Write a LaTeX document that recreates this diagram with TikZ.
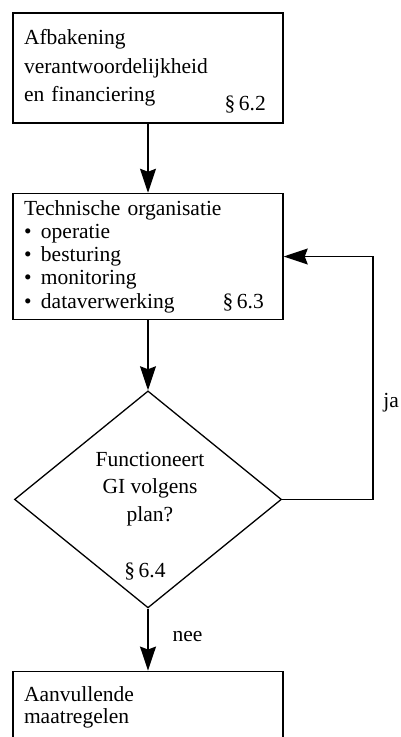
\documentclass[tikz,border=0pt]{standalone}
\usepackage{fontspec}
\setmainfont{Liberation Serif}
\usetikzlibrary{positioning, arrows.meta, shapes.geometric}
\tikzset{
>={Stealth[length=24pt, width=16pt, inset=3pt]}, % big filled arrow heads
every node/.style={font=\fontsize{21.5}{28.5}\selectfont}, % text size of the scan
box/.style={draw, line width=1.5pt, minimum width=270pt, text width=248pt, inner xsep=11pt, align=left}, % rectangular steps
decision/.style={diamond, draw, line width=1.3pt, minimum width=267pt, minimum height=217pt, inner sep=0pt}, % the question
flow/.style={->, line width=1.4pt}, % connectors between the steps
tag/.style={inner sep=0pt}, % paragraph references and answers
}

\begin{document}
\begin{tikzpicture}[x=1pt, y=-1pt]
\clip (0,0) rectangle (401,737);
\node[box, minimum height=110pt] (scope) at (148,68) {Afbakening\\verantwoordelijkheid\\en financiering};
\node[box, minimum height=126pt, below=69pt of scope, font=\fontsize{21.5}{23.3}\selectfont] (tech) {Technische organisatie\\
\makebox[17pt][l]{\textbullet}operatie\\
\makebox[17pt][l]{\textbullet}besturing\\
\makebox[17pt][l]{\textbullet}monitoring\\
\makebox[17pt][l]{\textbullet}dataverwerking};
\node[decision, below=70pt of tech] (check) {};
\node[box, minimum height=73pt, below=62pt of check, font=\fontsize{21.5}{22}\selectfont] (extra) {Aanvullende\\maatregelen};

\node[align=center, font=\fontsize{21.5}{27.5}\selectfont] (question) at (150,489) {Functioneert\\GI volgens\\plan?};
\node[tag, anchor=base east] (par62) at (266,110) {\S\,6.2};
\node[tag, anchor=base east] (par63) at (264,308) {\S\,6.3};
\node[tag, anchor=base] (par64) at (145,577) {\S\,6.4};
\coordinate (jaturn) at (373,0);
\node[tag, anchor=base east] (yes) at (399,407) {ja};

\draw[flow] (scope) -- (tech);
\draw[flow] (tech) -- (check);
\draw[flow] (check) -- node[tag, right=24pt, pos=.45] (no) {nee} (extra);
\draw[flow] (check.east) -- (check.east -| jaturn) |- (tech.east);
\end{tikzpicture}
\end{document}
